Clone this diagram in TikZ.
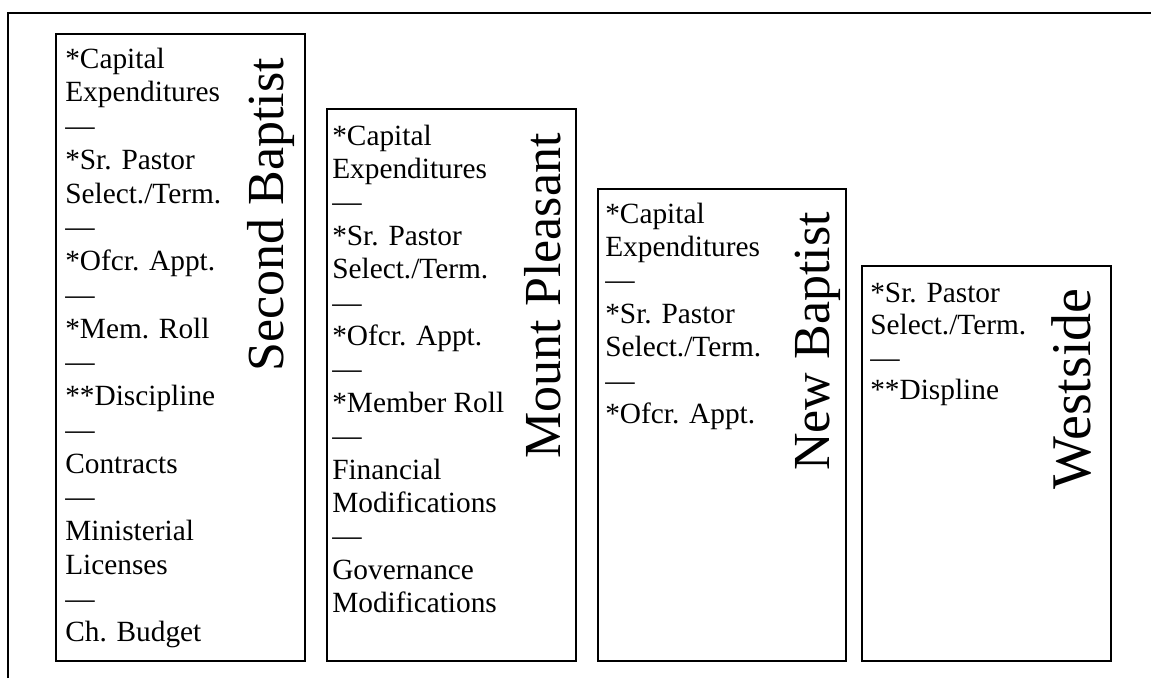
\documentclass[tikz,border=0pt]{standalone}
\usepackage{fontspec}
\setmainfont{Liberation Serif}
\begin{document}
\begin{tikzpicture}[x=0.75pt,y=-0.75pt,
  frame/.style={line width=1.5pt},
  boxline/.style={line width=1.4pt},
  item/.style={anchor=base west, inner sep=0pt, font=\fontsize{22}{25}\selectfont},
  title/.style={anchor=base east, rotate=90, inner sep=0pt, font=\fontsize{39}{45}\selectfont},
  bigtitle/.style={title, font=\fontsize{42}{48}\selectfont}]
\useasboundingbox (0,0) rectangle (1151,678);
% open page frame
\draw[frame] (8,678) -- (8,12.5) -- (1151,12.5);

% church boxes
\draw[boxline] (56,34) rectangle (305,661);
\draw[boxline] (327,109) rectangle (576,661);
\draw[boxline] (598,189) rectangle (846,661);
\draw[boxline] (862,266) rectangle (1111,661);

% Second Baptist
\foreach \t [count=\i] in {*Capital,Expenditures,—,*Sr. Pastor,Select./Term.,—,*Ofcr. Appt.,—,*Mem. Roll,—,**Discipline,—,Contracts,—,Ministerial,Licenses,—,Ch. Budget}
  \node[item, name=sb-\i] at (65,{68+(\i-1)*33.75}) {\t};
\node[title] (sbt) at (283,58) {Second Baptist};

% Mount Pleasant
\foreach \t [count=\i] in {*Capital,Expenditures,—,*Sr. Pastor,Select./Term.,—,*Ofcr. Appt.,—,*Member Roll,—,Financial,Modifications,—,Governance,Modifications}
  \node[item, name=mp-\i] at (332,{145+(\i-1)*33.4}) {\t};
\node[title] (mpt) at (560,133) {Mount Pleasant};

% New Baptist
\foreach \t [count=\i] in {*Capital,Expenditures,—,*Sr. Pastor,Select./Term.,—,*Ofcr. Appt.}
  \node[item, name=nb-\i] at (605,{223+(\i-1)*33.4}) {\t};
\node[title] (nbt) at (829,212) {New Baptist};

% Westside
\foreach \t [count=\i] in {*Sr. Pastor,Select./Term.,—,**Displine}
  \node[item, name=ws-\i] at (870,{302+(\i-1)*32.5}) {\t};
\node[bigtitle] (wst) at (1090,288) {Westside};
\end{tikzpicture}
\end{document}
